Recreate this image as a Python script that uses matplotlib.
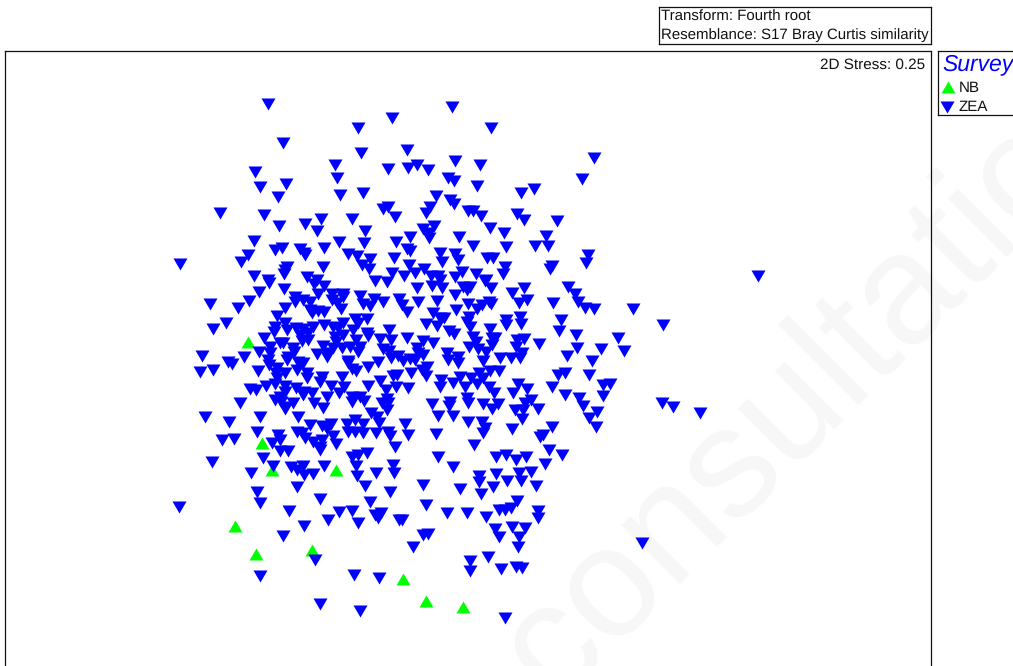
import matplotlib
matplotlib.use("Agg")
import matplotlib.pyplot as plt

plt.rcParams['font.family'] = ['Liberation Sans', 'DejaVu Sans']
plt.rcParams['text.hinting'] = 'none'

W, H = 1013, 666

groups = ["NB", "ZEA"]
title_lines = ["Transform: Fourth root", "Resemblance: S17 Bray Curtis similarity"]
stress_label = "2D Stress: 0.25"
legend_title = "Survey"
watermark = "consultation"

nb_x = [248, 262, 272, 336, 235, 256, 312, 403, 426, 463]
nb_y = [342, 443, 470, 470, 526, 554, 550, 579, 601, 607]

zea_x = [
    268,392,358,283,407,361,335,388,408,417,255,337,286,260,340,363,
    278,383,388,395,220,264,321,352,279,305,317,365,410,254,339,364,
    396,275,282,300,304,305,324,407,410,248,241,180,348,357,370,362,
    369,394,409,323,287,285,284,254,268,307,317,392,404,415,375,387,
    452,491,455,480,594,428,448,454,582,477,521,534,436,450,454,430,
    426,468,473,481,517,524,557,423,434,429,429,459,490,504,546,473,
    506,535,548,440,455,458,442,487,493,588,586,505,552,550,424,431,
    438,440,455,462,476,486,503,
    314,269,259,284,324,318,295,295,303,310,332,343,343,332,337,341,
    360,374,363,370,383,399,249,210,238,285,310,312,318,324,277,226,
    213,355,367,358,353,285,275,274,287,296,303,300,308,302,308,313,
    324,333,343,338,343,335,336,367,368,389,356,380,391,264,270,280,
    283,293,294,323,333,342,350,360,358,383,389,391,259,270,317,327,
    328,288,287,298,303,297,268,269,244,202,228,232,200,213,348,348,
    352,356,368,378,398,258,277,276,285,277,307,307,322,320,342,380,
    393,397,250,256,266,275,285,285,280,296,304,303,312,331,344,339,
    327,368,386,396,352,360,352,364,387,382,388,387,275,281,285,285,
    293,314,323,240,205,229,260,298,371,377,379,355,310,322,331,327,
    347,348,363,355,363,376,388,390,395,297,302,305,313,322,320,333,
    336,257,222,234,278,280,272,280,288,263,212,352,358,367,
    417,432,442,463,470,467,485,491,524,512,455,568,575,578,585,594,
    402,407,418,437,489,491,482,477,468,519,527,553,456,433,444,440,
    426,437,469,467,470,506,506,520,521,561,490,559,576,449,454,618,
    473,476,492,495,492,407,423,433,517,524,516,539,469,478,486,417,
    418,577,601,624,447,458,448,458,522,520,511,500,567,483,403,410,
    415,423,592,427,422,426,411,490,499,479,483,471,460,477,453,441,
    440,489,494,465,408,518,527,513,531,565,558,589,552,565,603,610,
    603,579,583,597,589,596,467,468,450,449,432,483,498,492,525,538,
    515,523,522,438,453,468,482,485,483,405,408,436,512,552,543,540,
    474,549,562,438,496,506,516,526,
    758,633,663,662,673,700,
    273,251,291,297,303,304,313,324,320,356,357,376,393,394,365,390,
    297,257,320,260,370,179,289,339,352,328,358,375,381,378,399,304,
    283,315,260,354,379,320,360,
    453,423,460,426,402,413,423,428,447,467,479,479,481,493,496,507,
    519,521,531,536,545,517,511,505,499,486,538,538,495,499,512,525,
    519,518,642,488,470,470,501,516,522,505,
]
zea_y = [
    104,118,128,143,150,153,165,169,168,165,172,178,184,187,195,193,
    197,209,207,217,213,215,219,219,226,224,231,231,237,241,242,243,
    242,250,248,249,253,255,248,249,251,255,262,264,254,256,259,265,
    269,258,265,267,267,270,274,276,280,277,280,273,276,273,281,282,
    107,128,161,165,158,170,178,181,179,186,193,189,196,200,204,207,
    213,211,211,216,214,220,221,229,226,233,238,237,228,233,236,246,
    247,246,246,253,254,260,262,258,258,255,263,267,266,269,269,276,
    276,280,277,272,274,280,274,
    284,283,292,289,286,294,297,302,300,302,294,294,297,300,303,309,
    296,299,304,306,302,299,301,304,308,308,310,313,311,312,316,323,
    329,319,319,323,330,323,327,332,330,328,329,335,333,341,340,327,
    325,327,323,328,335,337,342,333,336,330,340,339,340,338,347,343,
    343,348,352,346,348,348,347,347,352,349,351,358,352,353,354,357,
    353,357,360,362,363,370,360,365,357,356,362,364,372,370,361,363,
    369,371,367,362,356,371,368,373,373,378,373,378,377,382,377,381,
    376,375,389,390,386,384,386,392,397,388,392,395,393,386,387,393,
    397,386,390,387,397,397,402,401,399,403,403,410,400,402,407,409,
    403,403,408,403,417,422,417,417,413,417,423,420,425,426,424,429,
    424,432,424,432,433,433,432,436,447,432,433,438,442,440,447,436,
    444,432,440,439,435,440,443,451,451,458,462,457,455,453,
    288,286,288,287,287,290,281,288,288,293,295,287,294,302,308,309,
    305,312,302,301,302,304,305,309,304,303,300,303,310,313,318,318,
    324,326,317,322,327,320,325,317,324,320,329,331,335,331,334,338,
    337,342,338,338,345,338,341,343,340,339,347,344,347,349,352,348,
    353,348,349,351,353,357,360,363,353,358,358,358,356,361,361,359,
    360,355,361,367,370,376,373,371,371,373,378,378,377,384,383,380,
    387,387,393,387,388,384,389,393,400,373,375,375,387,395,385,384,
    396,398,406,412,418,427,398,403,402,406,404,404,404,409,403,409,
    410,410,419,416,416,422,422,428,433,424,435,434,429,427,435,437,
    445,450,455,457,457,455,460,457,
    276,309,325,403,407,413,
    466,473,467,470,466,475,474,466,450,466,476,473,465,473,486,492,
    487,492,499,503,502,507,511,512,511,520,523,515,513,518,520,526,
    536,560,576,575,578,604,611,
    467,485,489,505,520,547,535,534,513,513,476,482,494,487,474,481,
    473,481,472,486,464,501,508,510,510,517,511,518,529,537,527,528,
    537,547,543,557,561,571,569,567,568,618,
]

DOWN = [(-7, 6), (7, 6), (0, -6)]
UP = [(-7, -6), (7, -6), (0, 6)]
MSIZE = 102


def px_axes(left, top, right, bottom, **kw):
    ax = fig.add_axes([left / W, 1 - bottom / H, (right - left) / W, (bottom - top) / H], **kw)
    ax.set_xlim(left, right)
    ax.set_ylim(bottom, top)
    ax.set_xticks([])
    ax.set_yticks([])
    ax.patch.set_alpha(0)
    for s in ax.spines.values():
        s.set_linewidth(0.9)
        s.set_color('#111111')
    return ax


fig = plt.figure(figsize=(W / 100, H / 100), dpi=100, facecolor='white')

fig.text(554 / W, 1 - 704 / H, watermark, family='Liberation Sans',
         fontsize=113, color='#f7f7f7', rotation=45, rotation_mode='anchor',
         ha='left', va='baseline', zorder=-5)

ax = px_axes(4.5, 50.5, 930.5, 690)
ax.scatter(nb_x, nb_y, marker=UP, s=MSIZE, c='#00ff00', linewidths=0, zorder=2)
ax.scatter(zea_x, zea_y, marker=DOWN, s=MSIZE, c='#0000ff', linewidths=0, zorder=3)
ax.text(925, 65, stress_label, ha='right', va='center', fontsize=10.95, color='#111111')

box = px_axes(658.5, 6.5, 930.5, 43.5)
for line, y in zip(title_lines, (17, 35)):
    box.text(661, y, line, ha='left', va='center', fontsize=10.8, color='#111111')

leg = px_axes(937.5, 50.5, 1030, 114.5)
leg.text(942, 64, legend_title, ha='left', va='center', fontsize=16.5, style='italic', color='#0000ff')
leg.scatter([948], [87], marker=UP, s=MSIZE, c='#00ff00', linewidths=0)
leg.scatter([947], [107], marker=DOWN, s=MSIZE, c='#0000ff', linewidths=0)
leg.text(959, 88, groups[0], ha='left', va='center', fontsize=10.9, color='#111111')
leg.text(959, 107, groups[1], ha='left', va='center', fontsize=10.9, color='#111111')

fig.savefig('out.png', dpi=100)
